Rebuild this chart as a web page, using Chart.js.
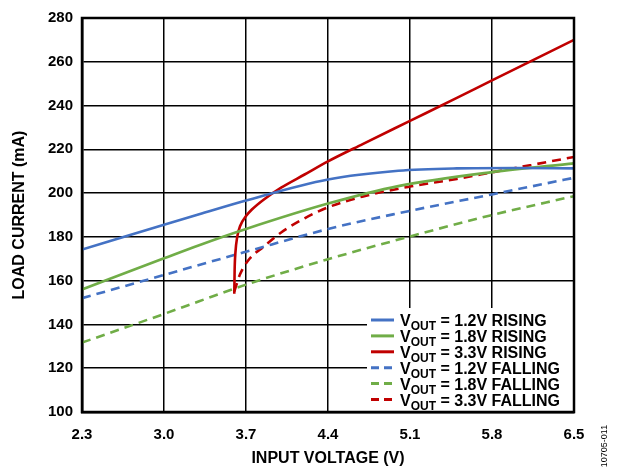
<!DOCTYPE html>
<html>
<head>
<meta charset="utf-8">
<script src="https://cdn.jsdelivr.net/npm/chart.js@4"></script>
<style>
  html, body { margin: 0; padding: 0; background: #fff; }
  #wrap { width: 621px; height: 467px; position: relative; }
</style>
</head>
<body>
<div id="wrap"><canvas id="loadChart"></canvas></div>
<script>
// axis ticks
const xTicks = [2.3, 3.0, 3.7, 4.4, 5.1, 5.8, 6.5];
const yTicks = [100, 120, 140, 160, 180, 200, 220, 240, 260, 280];

// series (input voltage V, load current mA)
const blueRiseV = [2.3, 3.0, 3.3, 3.7, 4.4, 5.0, 5.5, 6.0, 6.5];
const blueRiseI = [174.2, 185.5, 190.3, 196.6, 206.2, 210.2, 211.3, 211.5, 211.3];
const greenRiseV = [2.3, 3.0, 3.3, 3.7, 4.4, 5.0, 5.8, 6.5];
const greenRiseI = [156, 170.2, 176.2, 183.6, 195.2, 203.2, 209.6, 213.6];
const redRiseV = [3.600, 3.603, 3.61, 3.625, 3.65, 3.70, 3.75, 3.85, 4.0, 4.2, 4.4, 4.7, 5.1, 5.5, 5.8, 6.5];
const redRiseI = [154, 165, 173, 180, 185, 189.5, 192.5, 197, 202.5, 208.5, 214.5, 222.5, 233, 243.5, 251.5, 270];
const blueFallV = [2.3, 3.0, 3.3, 3.7, 4.4, 5.0, 5.8, 6.5];
const blueFallI = [152, 162.6, 167.2, 173.2, 183.6, 190.8, 199.4, 207];
const greenFallV = [2.3, 3.0, 3.3, 3.7, 4.4, 5.1, 5.8, 6.5];
const greenFallI = [131.7, 144.8, 150.6, 158.2, 169.8, 180.2, 190, 198.6];
const redFallV = [3.6, 3.65, 3.73, 3.85, 4.0, 4.2, 4.4, 4.7, 5.1, 5.5, 5.8, 6.5];
const redFallI = [155, 163, 170, 175.5, 182, 188.5, 193.5, 198.5, 203, 206.5, 209.5, 216.5];

const BLUE = '#4472C4';
const GREEN = '#70AD47';
const RED = '#C00000';

function pts(xs, ys) {
    return xs.map((x, i) => ({ x: x, y: ys[i] }));
}

function series(label, xs, ys, color, dashed) {
    return {
        label: label,
        data: pts(xs, ys),
        borderColor: color,
        backgroundColor: color,
        borderWidth: 2.6,
        borderDash: dashed ? [9, 6] : [],
        pointRadius: 0,
        cubicInterpolationMode: 'monotone',
        fill: false
    };
}

// legend box in the lower right of the plot, with V subscript OUT
const insideLegend = {
    id: 'insideLegend',
    afterDatasetsDraw(chart) {
        const ctx = chart.ctx;
        const area = chart.chartArea;
        const left = area.right - 207;
        const top = area.bottom - 104;
        ctx.save();
        ctx.fillStyle = '#fff';
        ctx.fillRect(left, top, area.right - left, area.bottom - top);
        chart.data.datasets.forEach((ds, i) => {
            const cy = top + 12 + i * 15.9;
            ctx.strokeStyle = ds.borderColor;
            ctx.lineWidth = 3;
            ctx.setLineDash(ds.borderDash.length ? [8, 5] : []);
            ctx.beginPath();
            ctx.moveTo(left + 4, cy);
            ctx.lineTo(left + 27, cy);
            ctx.stroke();
            ctx.setLineDash([]);
            ctx.fillStyle = '#000';
            ctx.textBaseline = 'alphabetic';
            ctx.textAlign = 'left';
            let x = left + 33;
            const base = cy + 6;
            ctx.font = 'bold 16px "Liberation Sans", Arial, sans-serif';
            ctx.fillText('V', x, base);
            x += ctx.measureText('V').width;
            ctx.font = 'bold 12px "Liberation Sans", Arial, sans-serif';
            ctx.fillText('OUT', x, base + 4);
            x += ctx.measureText('OUT').width;
            ctx.font = 'bold 16px "Liberation Sans", Arial, sans-serif';
            ctx.fillText(ds.label, x, base);
        });
        ctx.restore();
    },
    afterDraw(chart) {
        const ctx = chart.ctx;
        const area = chart.chartArea;
        ctx.save();
        ctx.strokeStyle = '#000';
        ctx.lineWidth = 2.5;
        ctx.strokeRect(area.left, area.top, area.right - area.left, area.bottom - area.top);
        // figure number on the right edge
        ctx.translate(605, 446);
        ctx.rotate(-Math.PI / 2);
        ctx.font = '9px "Liberation Sans", Arial, sans-serif';
        ctx.fillStyle = '#000';
        ctx.textAlign = 'center';
        ctx.textBaseline = 'middle';
        ctx.fillText('10705-011', 0, 0);
        ctx.restore();
    }
};

const ctx = document.getElementById('loadChart').getContext('2d');
new Chart(ctx, {
    type: 'line',
    data: {
        datasets: [
            series(' = 1.2V RISING', blueRiseV, blueRiseI, BLUE, false),
            series(' = 1.8V RISING', greenRiseV, greenRiseI, GREEN, false),
            series(' = 3.3V RISING', redRiseV, redRiseI, RED, false),
            series(' = 1.2V FALLING', blueFallV, blueFallI, BLUE, true),
            series(' = 1.8V FALLING', greenFallV, greenFallI, GREEN, true),
            series(' = 3.3V FALLING', redFallV, redFallI, RED, true)
        ]
    },
    options: {
        responsive: true,
        maintainAspectRatio: false,
        animation: false,
        layout: { padding: { top: 14, right: 47, left: 0, bottom: 0 } },
        plugins: {
            legend: { display: false },
            tooltip: { enabled: false }
        },
        scales: {
            x: {
                type: 'linear',
                min: 2.3,
                max: 6.5,
                afterBuildTicks: s => { s.ticks = xTicks.map(v => ({ value: v })); },
                afterFit: s => { s.height = 55; },
                grid: { color: '#000', lineWidth: 1.5, drawTicks: false },
                border: { color: '#000', width: 2.5 },
                ticks: {
                    padding: 14,
                    color: '#000',
                    maxRotation: 0,
                    font: { family: '"Liberation Sans", Arial, sans-serif', size: 15, weight: 'bold' },
                    callback: v => Number(v).toFixed(1)
                },
                title: {
                    display: true,
                    text: 'INPUT VOLTAGE (V)',
                    color: '#000',
                    padding: 0,
                    font: { family: '"Liberation Sans", Arial, sans-serif', size: 16, weight: 'bold', lineHeight: 1 }
                }
            },
            y: {
                min: 100,
                max: 280,
                afterBuildTicks: s => { s.ticks = yTicks.map(v => ({ value: v })); },
                afterFit: s => { s.width = 82; },
                grid: { color: '#000', lineWidth: 1.5, drawTicks: false },
                border: { color: '#000', width: 2.5 },
                ticks: {
                    padding: 9,
                    color: '#000',
                    font: { family: '"Liberation Sans", Arial, sans-serif', size: 15, weight: 'bold' }
                },
                title: {
                    display: true,
                    text: 'LOAD CURRENT (mA)',
                    color: '#000',
                    padding: 10,
                    font: { family: '"Liberation Sans", Arial, sans-serif', size: 16, weight: 'bold' }
                }
            }
        }
    },
    plugins: [insideLegend]
});
</script>
</body>
</html>
